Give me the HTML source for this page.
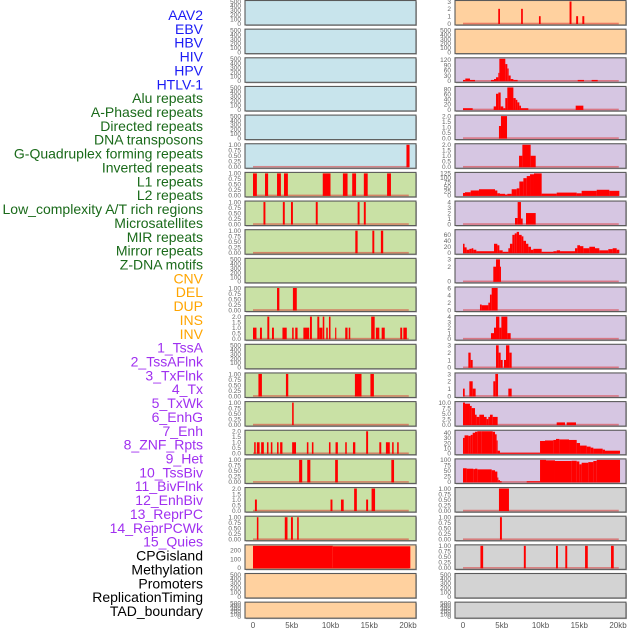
<!DOCTYPE html>
<html><head><meta charset="utf-8"><style>
html,body{margin:0;padding:0;background:#fff;width:630px;height:630px;overflow:hidden}
svg{display:block}
.lbl{font-family:"Liberation Sans",sans-serif;font-size:14px}
.tk{font-family:"Liberation Sans",sans-serif;font-size:6.5px;fill:#666}
.xt{font-family:"Liberation Sans",sans-serif;font-size:8px;fill:#555}
</style></head><body>
<svg id="chart" width="630" height="630" viewBox="0 0 630 630"></svg>
<script>
// ---- data (x in kb, [start, end, value]) ----
const labels = ["AAV2","EBV","HBV","HIV","HPV","HTLV-1","Alu repeats","A-Phased repeats","Directed repeats","DNA transposons","G-Quadruplex forming repeats","Inverted repeats","L1 repeats","L2 repeats","Low_complexity A/T rich regions","Microsatellites","MIR repeats","Mirror repeats","Z-DNA motifs","CNV","DEL","DUP","INS","INV","1_TssA","2_TssAFlnk","3_TxFlnk","4_Tx","5_TxWk","6_EnhG","7_Enh","8_ZNF_Rpts","9_Het","10_TssBiv","11_BivFlnk","12_EnhBiv","13_ReprPC","14_ReprPCWk","15_Quies","CPGisland","Methylation","Promoters","ReplicationTiming","TAD_boundary"];
const xTicks = [0,5,10,15,20];
const xTickLabels = ["0","5kb","10kb","15kb","20kb"];
const emptyTicks = [0,100,200,300,400,500];
const unitTicks = [0,0.25,0.5,0.75,1];
const unitTickLabels = ["0.00","0.25","0.50","0.75","1.00"];
const twoTicks = [0,0.5,1,1.5,2];
const twoTickLabels = ["0.0","0.5","1.0","1.5","2.0"];

const htlvBars = [[19.8,20.2,1]];
const aluBars = [[0,0.5,1],[1.55,1.95,1],[3.1,3.6,1],[4.0,4.5,1],[9.0,10.0,1],[11.6,12.2,1],[12.8,13.3,1],[14.3,14.8,1],[17.3,17.8,1]];
const aPhasedBars = [[1.35,1.6,1],[3.85,4.1,1],[4.9,5.15,1],[8.1,8.35,1],[13.5,13.75,1],[14.3,14.55,1]];
const directedBars = [[13.2,13.5,1],[15.4,15.65,1],[16.5,16.8,1]];
const gquadBars = [[3.1,3.4,1],[5.15,5.65,1]];
const invertedBars = [[0,0.45,1],[0.9,1.15,1],[1.85,2.1,2],[2.45,2.7,1],[3.8,4.35,1],[5.05,5.25,1],[5.45,5.75,1],[6.5,7.25,1],[7.35,7.6,2],[8.3,8.55,2],[8.55,8.95,1],[9.0,9.2,2],[9.45,9.65,1],[9.8,10.0,2],[10.6,10.75,1],[11.9,12.2,1],[12.35,12.55,1],[15.25,15.7,2],[15.85,16.3,1],[16.6,17.0,1],[19.0,19.25,1],[19.4,19.85,1]];
const l2Bars = [[0.7,1.15,1],[4.25,4.55,1],[13.15,14.0,1],[15.15,15.6,1]];
const lowBars = [[5.05,5.25,1]];
const microBars = [[0.15,0.35,1],[0.5,0.85,1],[1.05,1.4,1],[1.8,2.0,1],[2.3,2.5,1],[3.1,3.3,1],[3.5,3.8,1],[5.05,5.55,1],[6.95,7.15,1],[7.6,7.8,1],[9.8,10.0,1],[10.65,10.95,1],[11.9,12.1,1],[12.9,13.2,1],[14.6,14.85,2],[16.3,16.55,1],[17.15,17.65,1],[17.95,18.15,1],[18.6,18.8,1]];
const mirBars = [[5.95,6.35,1],[7.0,7.4,1],[10.6,10.95,1],[17.85,18.2,1]];
const mirrorBars = [[0.25,0.5,1],[10.0,10.25,1],[11.35,11.7,1],[13.05,13.4,2],[14.6,14.85,1],[15.3,15.75,2]];
const zdnaBars = [[0.5,0.7,1],[4.1,4.45,1],[4.9,5.15,1],[5.7,5.9,1]];
const cnvBars = [[0,10.3,260],[10.3,20.3,245]];
const insBars = [[4.55,4.77,2],[7.5,7.72,2],[9.8,10.02,1],[13.75,14.0,3],[14.6,14.85,1],[15.4,15.65,1]];
const tssABars = [[0,0.3,5],[0.3,0.9,13],[0.9,1.55,5],[3.61,4.0,5],[4.0,4.26,10],[4.26,4.56,20],[4.56,4.69,45],[4.69,5.46,125],[5.46,5.72,95],[5.72,5.89,70],[5.89,6.15,30],[6.15,6.5,10],[6.5,7.05,5],[14.8,15.61,5],[16.6,17.38,5]];
const tssAFlnkBars = [[0,1.25,5],[3.96,4.26,12],[4.26,4.56,62],[4.56,4.86,67],[4.86,5.2,12],[5.2,5.46,5],[5.46,5.72,45],[5.72,6.5,88],[6.5,6.8,45],[6.8,7.01,38],[7.01,7.27,28],[7.27,7.48,15],[7.48,8.43,5],[14.54,15.53,15]];
const txFlnkBars = [[4.64,4.9,1.1],[4.9,5.68,2]];
const txBars = [[7.23,7.66,1],[7.66,8.73,2],[8.73,9.38,1]];
const txWkBars = [[0,0.26,14],[0.26,0.99,18],[0.99,2.06,28],[2.06,4.13,35],[4.13,4.43,28],[4.43,4.77,12],[4.77,5.42,9],[5.42,5.72,5],[5.72,6.28,9],[6.28,6.93,35],[6.93,7.27,40],[7.27,7.79,79],[7.79,8.22,98],[8.22,8.65,110],[8.65,9.16,120],[9.16,10.15,127],[10.15,12.09,10],[12.09,14.67,16],[14.67,15.31,12],[15.31,17.25,26],[17.25,18.88,32],[18.88,20.17,26]];
const enhGBars = [[6.71,7.05,1.1],[7.05,7.48,4],[7.48,7.7,1],[8.13,9.38,2]];
const enhBars = [[0,0.2,30],[0.2,0.47,18],[0.47,0.82,10],[0.82,1.12,13],[1.12,1.33,15],[1.33,1.72,10],[1.72,4.0,5],[4.0,4.43,30],[4.43,4.69,25],[4.69,5.12,8],[5.12,5.85,3],[5.85,6.06,15],[6.06,6.37,30],[6.37,6.67,60],[6.67,6.93,65],[6.93,7.23,70],[7.23,7.57,60],[7.57,7.79,55],[7.79,8.13,40],[8.13,8.43,30],[8.43,8.77,20],[8.77,9.08,10],[9.08,10.15,13],[10.15,11.66,3],[11.66,12.09,5],[12.09,12.52,8],[12.52,14.45,5],[14.45,14.75,15],[14.75,15.1,25],[15.1,15.53,22],[15.53,16.3,15],[16.3,17.03,20],[17.03,17.59,15],[17.59,18.75,8],[18.75,19.31,12],[19.31,19.83,15],[19.83,20.17,10]];
const znfBars = [[3.91,4.26,2],[4.26,4.77,3],[4.77,4.9,2]];
const hetBars = [[2.19,2.41,1.5],[2.41,3.27,1.3],[3.27,3.48,2],[3.48,3.7,4.2],[3.7,4.47,6]];
const tssBivBars = [[3.61,4.0,1],[4.0,4.26,2],[4.26,4.69,4],[4.69,4.95,2],[4.95,5.72,4],[5.72,6.15,1]];
const bivFlnkBars = [[0.69,0.99,2],[0.99,1.25,1],[4.26,4.6,3],[4.6,4.86,2],[4.86,5.12,1],[5.29,5.55,1],[5.55,5.98,3],[5.98,6.28,2]];
const enhBivBars = [[0,0.22,1],[0.82,1.25,2],[1.25,1.63,1],[3.91,4.17,2],[4.17,4.52,3],[5.85,6.28,1]];
const reprPCBars = [[0,0.26,10],[0.26,0.9,9.5],[0.9,1.12,8.5],[1.12,1.55,7.5],[1.55,1.76,4.5],[1.76,2.11,3.5],[2.11,2.71,4.5],[2.71,3.05,3.5],[3.05,3.27,2.5],[3.27,3.48,3.5],[3.48,3.83,4.5],[3.83,4.47,3.5],[12.09,13.16,1],[13.38,14.58,1]];
const reprPCWkBars = [[0,0.2,30],[0.2,0.69,35],[0.69,0.99,34],[0.99,1.25,36],[1.25,1.55,40],[1.55,1.85,42],[1.85,2.41,44],[2.41,2.71,43],[2.71,3.83,44],[3.83,4.13,42],[4.13,4.34,37],[4.34,4.47,25],[4.47,4.77,5],[4.77,9.94,1],[9.94,10.58,24],[10.58,11.66,25],[11.66,12.0,26],[12.0,12.43,28],[12.43,13.68,27],[13.68,14.67,26],[14.67,15.1,20],[15.1,15.96,15],[15.96,16.47,13],[16.47,16.82,11],[16.82,18.02,9],[18.02,18.32,7],[18.32,20.26,5]];
const quiesBars = [[0,0.47,62],[0.47,1.33,60],[1.33,1.55,58],[1.55,1.85,60],[1.85,3.7,57],[3.7,4.13,53],[4.13,4.43,47],[4.43,4.56,20],[4.56,4.77,8],[4.77,4.99,3],[8.22,9.94,3],[9.94,10.71,100],[10.71,11.87,98],[11.87,14.02,95],[14.02,14.67,96],[14.67,15.01,93],[15.01,15.31,80],[15.31,16.17,87],[16.17,16.82,90],[16.82,17.25,95],[17.25,20.26,100]];
const cpgBars = [[4.64,5.93,1]];
const methBars = [[4.77,5.02,1]];
const promBars = [[2.25,2.6,1],[7.85,8.1,1],[12.0,12.25,1],[13.2,13.45,1],[15.75,16.1,1],[19.1,19.45,1]];

const C_BLUE="#c8e4ec", C_GREEN="#c9e1a5", C_ORANGE="#ffd19f", C_PURPLE="#d6c6e2", C_GRAY="#d3d3d3";
// panel: [bars, ymax, ticks, tickLabels, bg]
const E = null;
const panels = [
 [E,500,emptyTicks,null,C_BLUE],[E,500,emptyTicks,null,C_BLUE],[E,500,emptyTicks,null,C_BLUE],[E,500,emptyTicks,null,C_BLUE],[E,500,emptyTicks,null,C_BLUE],
 [htlvBars,1,unitTicks,unitTickLabels,C_BLUE],
 [aluBars,1,unitTicks,unitTickLabels,C_GREEN],[aPhasedBars,1,unitTicks,unitTickLabels,C_GREEN],[directedBars,1,unitTicks,unitTickLabels,C_GREEN],
 [E,500,emptyTicks,null,C_GREEN],[gquadBars,1,unitTicks,unitTickLabels,C_GREEN],[invertedBars,2,twoTicks,twoTickLabels,C_GREEN],
 [E,500,emptyTicks,null,C_GREEN],[l2Bars,1,unitTicks,unitTickLabels,C_GREEN],[lowBars,1,unitTicks,unitTickLabels,C_GREEN],
 [microBars,2,twoTicks,twoTickLabels,C_GREEN],[mirBars,1,unitTicks,unitTickLabels,C_GREEN],[mirrorBars,2,twoTicks,twoTickLabels,C_GREEN],
 [zdnaBars,1,unitTicks,unitTickLabels,C_GREEN],[cnvBars,250,[0,100,200],null,C_ORANGE],
 [E,500,emptyTicks,null,C_ORANGE],[E,500,emptyTicks,null,C_ORANGE],
 [insBars,3,[0,1,2,3],null,C_ORANGE],[E,500,emptyTicks,null,C_ORANGE],
 [tssABars,125,[0,30,60,90,120],null,C_PURPLE],[tssAFlnkBars,87,[0,20,40,60,80],null,C_PURPLE],
 [txFlnkBars,2,twoTicks,twoTickLabels,C_PURPLE],[txBars,2,twoTicks,twoTickLabels,C_PURPLE],
 [txWkBars,125,[0,25,50,75,100,125],null,C_PURPLE],[enhGBars,4,[0,1,2,3,4],null,C_PURPLE],
 [enhBars,74,[0,20,40,60],null,C_PURPLE],[znfBars,3,[0,2,3],null,C_PURPLE],[hetBars,6,[0,2,4,6],null,C_PURPLE],
 [tssBivBars,4,[0,1,2,3,4],null,C_PURPLE],[bivFlnkBars,3,[0,1,2,3],null,C_PURPLE],[enhBivBars,3,[0,1,2,3],null,C_PURPLE],
 [reprPCBars,10,[0,2.5,5,7.5,10],["0.0","2.5","5.0","7.5","10.0"],C_PURPLE],[reprPCWkBars,43,[0,10,20,30,40],null,C_PURPLE],
 [quiesBars,100,[0,25,50,75,100],null,C_PURPLE],
 [cpgBars,1,unitTicks,unitTickLabels,C_GRAY],[methBars,1,unitTicks,unitTickLabels,C_GRAY],[promBars,1,unitTicks,unitTickLabels,C_GRAY],
 [E,500,emptyTicks,null,C_GRAY],[E,500,emptyTicks,null,C_GRAY]
];

const NS="http://www.w3.org/2000/svg";
const svg=document.getElementById('chart');
function mk(tag,attrs,parent){const e=document.createElementNS(NS,tag);for(const k in attrs)e.setAttribute(k,attrs[k]);(parent||svg).appendChild(e);return e;}
const labelColor=i=>i<6?"#1b1bf5":i<19?"#1a6a1a":i<24?"#ffa500":i<39?"#a030f0":"#000";

// labels
labels.forEach((t,i)=>{
  const el=mk('text',{x:203,y:15+13.86*i+5,'text-anchor':'end',class:'lbl',fill:labelColor(i)});
  el.textContent=t;
  
  
});

const PX_PER_KB=7.75;
panels.forEach((p,i)=>{
  const col=i<22?0:1, row=i%22;
  const left=col?455:245, w=171;
  const top=0.5+28.65*row, h=row===21?16:24.5;
  const [bars,ymax,ticks,tlabels,bg]=p;
  const xs=kb=>left+8+kb*PX_PER_KB;
  const y0=top+h-1.5, y1=top+1;
  const ys=v=>y0-(Math.min(v,ymax)/ymax)*(y0-y1);
  const name=labels[i].toLowerCase().replace(/[^a-z0-9]+/g,'-');
  const g=mk('g',{});
  
  
  mk('rect',{x:left+1,y:top+1,width:w,height:h,fill:'#b8b8b8'},g);
  const bgr=mk('rect',{x:left,y:top,width:w,height:h,fill:bg},g);
  
  
  if(bars){
    const base=mk('rect',{x:xs(0),y:y0-0.8,width:xs(20.1)-xs(0),height:1.6,fill:'rgba(220,40,40,0.5)'},g);
    
    
    bars.forEach(b=>{
      const r=mk('rect',{x:xs(b[0]),y:ys(b[2]),width:Math.max(1,xs(b[1])-xs(b[0])),height:y0-ys(b[2])+0.5,fill:'#ff0000'},g);
      
      
    });
  }
  mk('rect',{x:left,y:top,width:w,height:h,fill:'none',stroke:'#5a5a5a','stroke-width':1.1},g);
  ticks.forEach((t,k)=>{
    const tl=mk('text',{x:left-4,y:ys(t)+2.3,'text-anchor':'end',class:'tk'},g);
    tl.textContent=tlabels?tlabels[k]:String(t);
    
    
  });
  if(row===21){
    xTicks.forEach((t,k)=>{
      const xl=mk('text',{x:xs(t),y:628,'text-anchor':'middle',class:'xt'});
      xl.textContent=xTickLabels[k];
      
      
    });
  }
});
</script>
</body></html>
